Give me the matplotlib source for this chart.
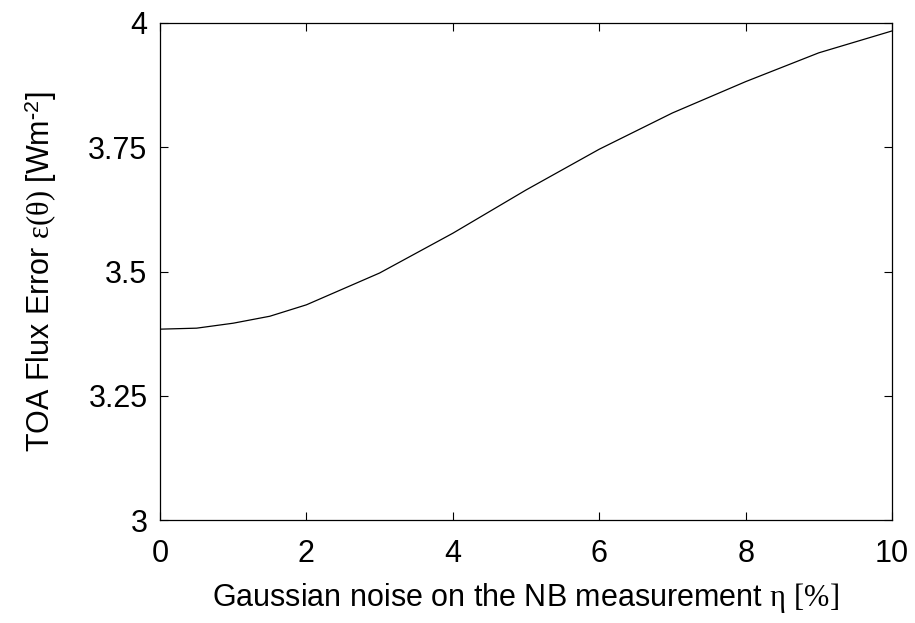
import matplotlib.pyplot as plt

plt.rcParams["font.family"] = ["Liberation Sans", "DejaVu Sans"]
plt.rcParams["mathtext.fontset"] = "custom"
plt.rcParams["mathtext.rm"] = "Liberation Serif"
plt.rcParams["mathtext.it"] = "Liberation Serif"
plt.rcParams["mathtext.sf"] = "Liberation Sans"

# ruido gaussiano (%) y error de flujo TOA (W m^-2)
ruido = [0, 0.5, 1, 1.5, 2, 3, 4, 5, 6, 7, 8, 9, 10]
error_flujo = [3.384, 3.386, 3.396, 3.410, 3.433, 3.497, 3.577, 3.664,
               3.746, 3.819, 3.882, 3.940, 3.984]

fig = plt.figure(figsize=(9.15, 6.23), dpi=100)
ax = fig.add_axes([0.1749, 0.1653, 0.8, 0.7978])

ax.plot(ruido, error_flujo, color="black", linewidth=0.9)

ax.set_xlim(0, 10)
ax.set_ylim(3, 4)
ax.set_xticks([0, 2, 4, 6, 8, 10])
ax.set_yticks([3, 3.25, 3.5, 3.75, 4])
ax.set_yticklabels(["3", "3.25", "3.5", "3.75", "4"])
ax.tick_params(direction="in", length=6, width=0.8, labelsize=22,
               top=True, right=True)
ax.tick_params(axis="x", pad=14)
ax.tick_params(axis="y", pad=9)
for s in ax.spines.values():
    s.set_linewidth(0.9)

ax.set_xlabel(r"Gaussian noise on the NB measurement $\mathrm{\eta\ [\%]}$",
              fontsize=22, labelpad=8)
ax.set_ylabel(r"TOA Flux Error $\mathrm{\varepsilon(\theta)}$ [Wm$^{\mathsf{\text{-}2}}$]",
              fontsize=22, labelpad=21)

fig.savefig("out.png", dpi=100)
